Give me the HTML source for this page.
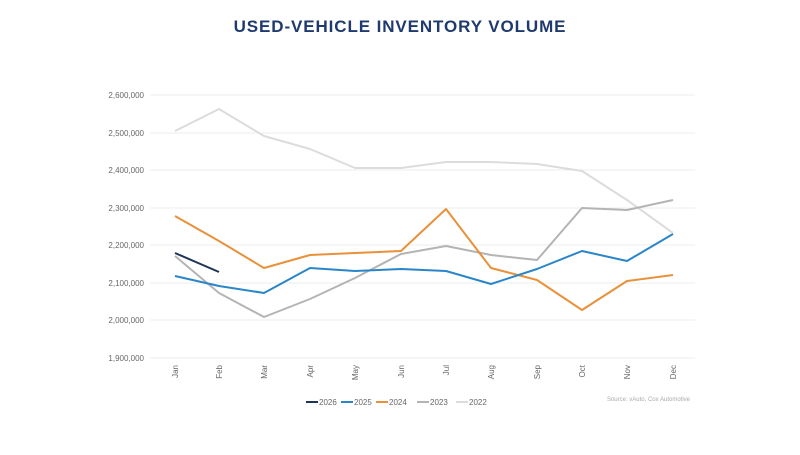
<!DOCTYPE html>
<html><head><meta charset="utf-8"><style>
body{margin:0;background:#fff;width:800px;height:450px;overflow:hidden;font-family:"Liberation Sans",sans-serif}
</style></head><body>
<svg width="800" height="450" xmlns="http://www.w3.org/2000/svg" font-family="Liberation Sans, sans-serif">
<text x="400" y="32" text-anchor="middle" font-size="17" font-weight="bold" fill="#1f3a6e" letter-spacing="0.9">USED-VEHICLE INVENTORY VOLUME</text>
<g stroke="#eeeeee" stroke-width="1">
<line x1="150" x2="695" y1="95" y2="95"/><line x1="150" x2="695" y1="133" y2="133"/>
<line x1="150" x2="695" y1="170" y2="170"/><line x1="150" x2="695" y1="208" y2="208"/>
<line x1="150" x2="695" y1="245" y2="245"/><line x1="150" x2="695" y1="283" y2="283"/>
<line x1="150" x2="695" y1="320" y2="320"/><line x1="150" x2="695" y1="358" y2="358"/>
</g>
<g font-size="8" fill="#666" text-anchor="end">
<text x="144" y="98">2,600,000</text><text x="144" y="136">2,500,000</text>
<text x="144" y="173">2,400,000</text><text x="144" y="211">2,300,000</text>
<text x="144" y="248">2,200,000</text><text x="144" y="286">2,100,000</text>
<text x="144" y="323">2,000,000</text><text x="144" y="361">1,900,000</text>
</g>
<g font-size="8" fill="#666" text-anchor="end">
<text transform="translate(178,365) rotate(-90)">Jan</text>
<text transform="translate(222,365) rotate(-90)">Feb</text>
<text transform="translate(267,365) rotate(-90)">Mar</text>
<text transform="translate(313,365) rotate(-90)">Apr</text>
<text transform="translate(358,365) rotate(-90)">May</text>
<text transform="translate(404,365) rotate(-90)">Jun</text>
<text transform="translate(449,365) rotate(-90)">Jul</text>
<text transform="translate(494,365) rotate(-90)">Aug</text>
<text transform="translate(540,365) rotate(-90)">Sep</text>
<text transform="translate(585,365) rotate(-90)">Oct</text>
<text transform="translate(630,365) rotate(-90)">Nov</text>
<text transform="translate(676,365) rotate(-90)">Dec</text>
</g>
<g fill="none" stroke-width="2" stroke-linejoin="round">
<polyline stroke="#dcdcdc" points="175,131 219,109 264,136 310,149 355,168 401,168 446,162 491,162 537,164 582,171 627,200 673,233"/>
<polyline stroke="#b4b4b4" points="175,256 219,293 264,317 310,299 355,278 401,254 446,246 491,255 537,260 582,208 627,210 673,200"/>
<polyline stroke="#e8913a" points="175,216 219,241 264,268 310,255 355,253 401,251 446,209 491,268 537,280 582,310 627,281 673,275"/>
<polyline stroke="#2a86c8" points="175,276 219,286 264,293 310,268 355,271 401,269 446,271 491,284 537,269 582,251 627,261 673,234"/>
<polyline stroke="#1f3558" points="175,253 219,272"/>
</g>
<g font-size="8" fill="#666">
<line x1="306" x2="318" y1="402" y2="402" stroke="#1f3558" stroke-width="2"/><text x="319" y="405">2026</text>
<line x1="341" x2="353" y1="402" y2="402" stroke="#2a86c8" stroke-width="2"/><text x="354" y="405">2025</text>
<line x1="376" x2="388" y1="402" y2="402" stroke="#e8913a" stroke-width="2"/><text x="389" y="405">2024</text>
<line x1="417" x2="429" y1="402" y2="402" stroke="#b4b4b4" stroke-width="2"/><text x="430" y="405">2023</text>
<line x1="456" x2="468" y1="402" y2="402" stroke="#dcdcdc" stroke-width="2"/><text x="469" y="405">2022</text>
</g>
<text x="690" y="401" font-size="6" fill="#aaa" text-anchor="end">Source: vAuto, Cox Automotive</text>
</svg>
</body></html>
